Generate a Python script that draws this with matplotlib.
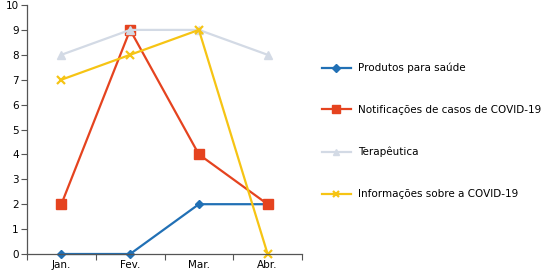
import matplotlib.pyplot as plt

# dados
meses = ['Jan.', 'Fev.', 'Mar.', 'Abr.']
produtos = [0, 0, 2, 2]
notificacoes = [2, 9, 4, 2]
terapeutica = [8, 9, 9, 8]
informacoes = [7, 8, 9, 0]

fig = plt.figure(figsize=(5.5, 2.77), dpi=100)
ax = fig.add_axes([27 / 550, 23 / 277, 275 / 550, 249 / 277])

x = range(len(meses))
ax.plot(x, produtos, color='#2170B5', marker='D', markersize=4.5, lw=1.6,
        label='Produtos para saúde', clip_on=False)
ax.plot(x, notificacoes, color='#E5431F', marker='s', markersize=6.5, lw=1.6,
        label='Notificações de casos de COVID-19', clip_on=False)
ax.plot(x, terapeutica, color='#D3DAE5', marker='^', markersize=5.5, lw=1.6,
        label='Terapêutica', clip_on=False)
ax.plot(x, informacoes, color='#F6C414', marker='x', markersize=6, mew=1.6, lw=1.6,
        label='Informações sobre a COVID-19', clip_on=False)

ax.set_xlim(-0.5, 3.5)
ax.set_ylim(0, 10)
ax.set_yticks(range(0, 11))
ax.set_xticks([-0.5, 0.5, 1.5, 2.5, 3.5])
ax.set_xticklabels([])
ax.set_xticks(list(x), minor=True)
ax.set_xticklabels(meses, minor=True)
ax.tick_params(axis='x', which='minor', length=0, labelsize=7.5, pad=4)
ax.tick_params(axis='x', which='major', length=4, color='#555555')
ax.tick_params(axis='y', length=4, labelsize=7.5, color='#555555', pad=2)

for s in ['top', 'right']:
    ax.spines[s].set_visible(False)
for s in ['left', 'bottom']:
    ax.spines[s].set_color('#555555')
    ax.spines[s].set_linewidth(0.9)

fig.legend(loc='center left', bbox_to_anchor=(313 / 550, 1 - 131 / 277),
           frameon=False, fontsize=7.5, labelspacing=3.05, handlelength=2.7,
           handletextpad=0.7, markerscale=0.8)

plt.savefig('out.png', dpi=100)
